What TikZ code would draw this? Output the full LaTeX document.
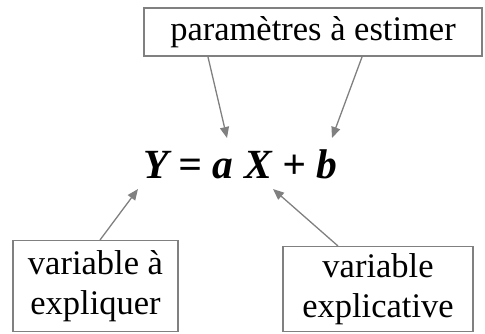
\documentclass[tikz,border=0pt]{standalone}
\usepackage{fontspec}
\setmainfont{Liberation Serif}
\usetikzlibrary{arrows.meta}
\definecolor{lgray}{HTML}{808080}
\begin{document}
\begin{tikzpicture}[x=1pt,y=-1pt,
  box/.style={draw=lgray,line width=1.3pt,inner sep=0pt,align=center,
    font=\fontsize{34.5}{40}\selectfont},
  conn/.style={draw=lgray,line width=1.3pt,-{Triangle[length=11pt,width=9pt]}}]
\useasboundingbox (0,0) rectangle (485,333);
\node[box,minimum width=338pt,minimum height=48pt] (top) at (313,32) {paramètres à estimer};
\node[box,minimum width=165pt,minimum height=91pt] (left) at (95.5,286) {variable à\\expliquer};
\node[box,minimum width=190pt,minimum height=85pt] (right) at (378,289) {variable\\explicative};
\node[inner sep=0pt,anchor=base,font=\fontsize{41.5}{48}\selectfont\bfseries\itshape] (eq) at (240,178) {Y = a X + b};
\coordinate (t1) at (208,57);
\coordinate (t2) at (362,57);
\coordinate (e1) at (227,138);
\coordinate (e2) at (332,138);
\coordinate (e3) at (138,189);
\coordinate (e4) at (273,189);
\coordinate (l1) at (100,240);
\coordinate (r1) at (338,246);
\draw[conn] (t1) -- (e1);
\draw[conn] (t2) -- (e2);
\draw[conn] (l1) -- (e3);
\draw[conn] (r1) -- (e4);
\end{tikzpicture}
\end{document}
